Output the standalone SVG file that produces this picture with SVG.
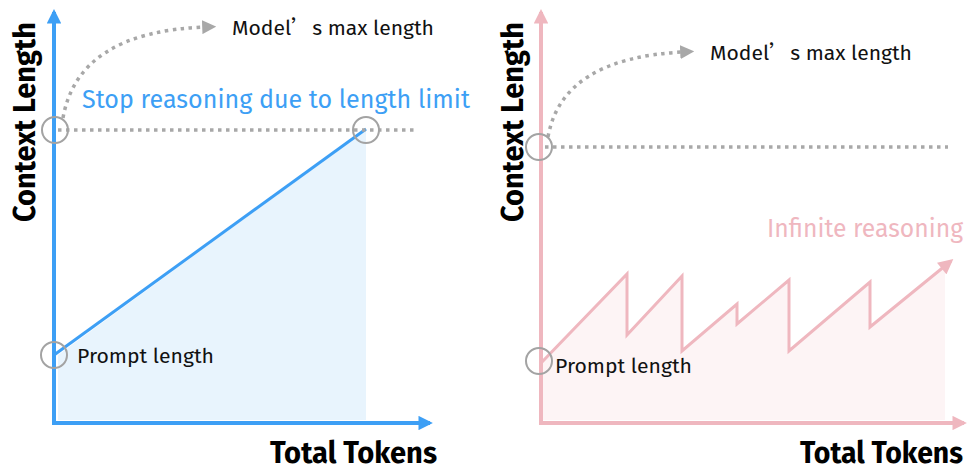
<svg xmlns="http://www.w3.org/2000/svg" width="967" height="470" viewBox="0 0 967 470">
<defs>
<style>
.lbl{font-family:"Fira Sans","Roboto","Noto Sans",sans-serif;}
.axis-title{font-family:"Fira Sans","Roboto","Noto Sans",sans-serif;font-weight:bold;font-size:30px;fill:#000;}
.note{font-size:21px;fill:#111;}
.dot{fill:none;stroke:#a8a8a8;stroke-width:3.5;stroke-dasharray:3.5 4.5;}
.ring{fill:none;stroke:#a3a3a3;stroke-width:2;}
.blue{stroke:#3d9ff5;}
.pink{stroke:#efb7bf;}
</style>
<marker id="ahGray" viewBox="0 0 10 10" refX="2" refY="5" markerWidth="4" markerHeight="4" orient="auto" markerUnits="strokeWidth"><path d="M0,0 L10,5 L0,10 z" fill="#a8a8a8"/></marker>
<marker id="ahBlue" viewBox="0 0 10 10" refX="8" refY="5" markerWidth="4" markerHeight="3.6" orient="auto" markerUnits="strokeWidth"><path d="M0,0 L10,5 L0,10 z" fill="#3d9ff5"/></marker>
<marker id="ahPink" viewBox="0 0 10 10" refX="8" refY="5" markerWidth="4" markerHeight="3.6" orient="auto" markerUnits="strokeWidth"><path d="M0,0 L10,5 L0,10 z" fill="#efb7bf"/></marker>
<marker id="ahPinkS" viewBox="0 0 10 10" refX="8" refY="5" markerWidth="5.5" markerHeight="5" orient="auto" markerUnits="strokeWidth"><path d="M0,0 L10,5 L0,10 z" fill="#efb7bf"/></marker>
</defs>

<g id="left-chart">
  <polygon id="left-area" points="58,355 366,130 366,420 58,420" fill="#e8f4fd"/>
  <g id="connectors-left">
    <line class="blue" x1="54" y1="424" x2="54" y2="12" stroke-width="4" marker-end="url(#ahBlue)"/>
    <line class="blue" x1="52" y1="423" x2="430" y2="423" stroke-width="4" marker-end="url(#ahBlue)"/>
    <line class="blue" x1="54" y1="355" x2="366" y2="129" stroke-width="3"/>
    <line class="dot" x1="58" y1="130" x2="414" y2="130"/>
    <path class="dot" d="M63,118 Q78,32 205,27" marker-end="url(#ahGray)"/>
  </g>
  <g id="left-markers">
    <circle class="ring" cx="55" cy="130" r="13"/>
    <circle class="ring" cx="366" cy="130" r="13"/>
    <circle class="ring" cx="54" cy="355" r="13"/>
  </g>
  <text class="lbl note" x="232" y="35" textLength="202" lengthAdjust="spacingAndGlyphs">Model<tspan font-family="Noto Sans CJK SC, sans-serif">’</tspan>s max length</text>
  <text class="lbl" x="82" y="108" font-size="26" fill="#3d9ff5" textLength="388" lengthAdjust="spacingAndGlyphs">Stop reasoning due to length limit</text>
  <text class="lbl note" x="77" y="363" textLength="137" lengthAdjust="spacingAndGlyphs">Prompt length</text>
  <text class="axis-title" x="270" y="463" textLength="167" lengthAdjust="spacingAndGlyphs">Total Tokens</text>
  <text class="axis-title" transform="translate(35,222) rotate(-90)" x="0" y="0" textLength="200" lengthAdjust="spacingAndGlyphs">Context Length</text>
</g>

<g id="right-chart">
  <polygon id="right-area" points="543,362 627,274 627,335 682,276 682,351 737,304 737,324 789,280 789,351 870,282 870,327 945,266 945,420 543,420" fill="#fdf4f5"/>
  <g id="connectors-right">
    <line class="pink" x1="541" y1="424" x2="541" y2="12" stroke-width="4" marker-end="url(#ahPink)"/>
    <line class="pink" x1="539" y1="423" x2="964" y2="423" stroke-width="4" marker-end="url(#ahPink)"/>
    <polyline class="pink" fill="none" stroke-width="3" stroke-linejoin="miter" points="542,362 627,274 627,335 682,276 682,351 737,304 737,324 789,280 789,351 870,282 870,327 951,261" marker-end="url(#ahPinkS)"/>
    <line class="dot" x1="545" y1="147" x2="948" y2="147"/>
    <path class="dot" d="M548,137 Q562,58 683,52" marker-end="url(#ahGray)"/>
  </g>
  <g id="right-markers">
    <circle class="ring" cx="539" cy="147" r="13"/>
    <circle class="ring" cx="539" cy="361" r="13"/>
  </g>
  <text class="lbl note" x="710" y="60" textLength="202" lengthAdjust="spacingAndGlyphs">Model<tspan font-family="Noto Sans CJK SC, sans-serif">’</tspan>s max length</text>
  <text class="lbl" x="767" y="237" font-size="26" fill="#efb7bf" textLength="196" lengthAdjust="spacingAndGlyphs">Infinite reasoning</text>
  <text class="lbl note" x="555" y="373" textLength="137" lengthAdjust="spacingAndGlyphs">Prompt length</text>
  <text class="axis-title" x="800" y="463" textLength="163" lengthAdjust="spacingAndGlyphs">Total Tokens</text>
  <text class="axis-title" transform="translate(523,222) rotate(-90)" x="0" y="0" textLength="200" lengthAdjust="spacingAndGlyphs">Context Length</text>
</g>
</svg>
